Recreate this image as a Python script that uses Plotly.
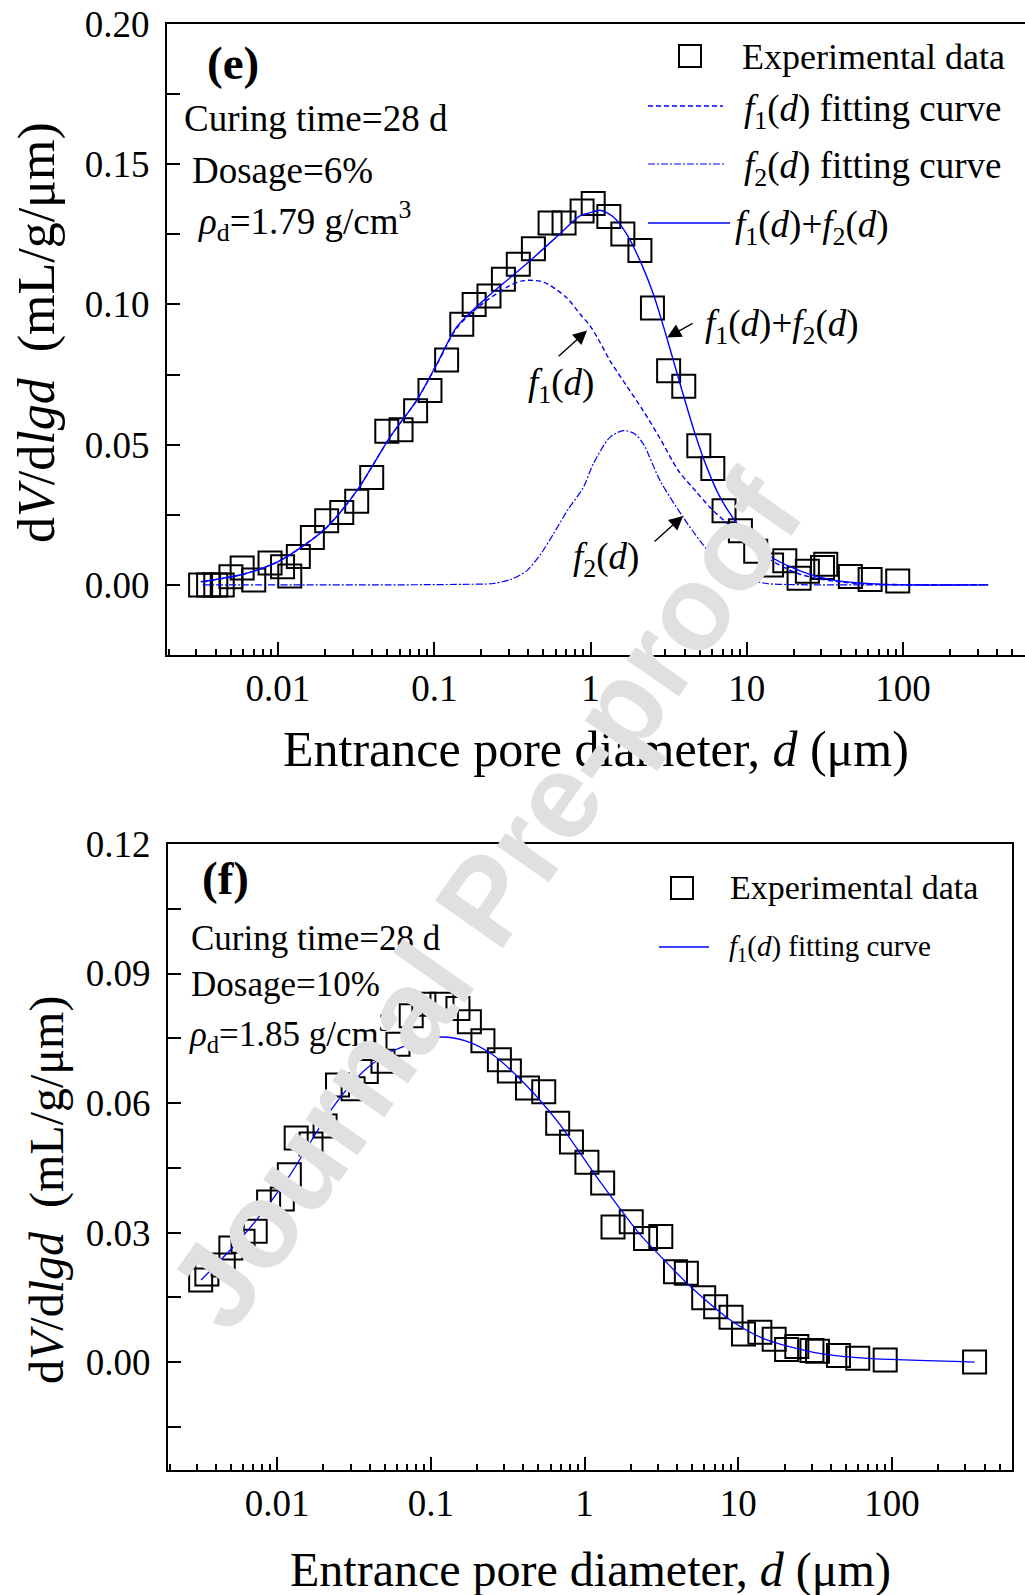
import math
import plotly.graph_objects as go

# ---------------- data: panel (e) ----------------
e_d = [0.0032, 0.0036, 0.0040, 0.0044, 0.0050, 0.0059, 0.0070, 0.0089, 0.0107, 0.0119,
       0.0135, 0.0166, 0.0205, 0.0256, 0.0319, 0.0398, 0.0497, 0.0613, 0.0760, 0.0939,
       0.120, 0.150, 0.180, 0.224, 0.277, 0.345, 0.431, 0.551, 0.677, 0.883,
       1.04, 1.31, 1.61, 2.07, 2.49, 3.16, 3.95, 4.93, 6.06, 7.15,
       9.10, 11.4, 14.4, 17.5, 21.6, 24.4, 30.5, 32.0, 46.0, 61.5, 92.4]
e_v = [0.0000, 0.0000, 0.0000, 0.0000, 0.0029, 0.0060, 0.0017, 0.0078, 0.0065, 0.0032,
       0.0101, 0.0169, 0.0229, 0.0258, 0.0298, 0.0383, 0.0548, 0.0553, 0.0621, 0.0693,
       0.0802, 0.0929, 0.1000, 0.1030, 0.1090, 0.1143, 0.1199, 0.1290, 0.1290, 0.1333,
       0.1360, 0.1314, 0.1251, 0.1192, 0.0987, 0.0764, 0.0708, 0.0496, 0.0415, 0.0264,
       0.0193, 0.0120, 0.0071, 0.0086, 0.0024, 0.0049, 0.0062, 0.0074, 0.0030, 0.0019, 0.0014]

f1e_d = [0.0033, 0.006, 0.0098, 0.0145, 0.0205, 0.032, 0.052, 0.077, 0.104, 0.139,
         0.206, 0.30, 0.375, 0.50, 0.70, 0.86, 0.99, 1.15, 1.33, 1.7,
         2.18, 2.8, 3.65, 4.7, 5.82, 7.3, 9.06, 11.0, 13.4, 17.0,
         21.9, 30.0, 40.0, 58.5, 100.0, 200.0, 350.0]
f1e_v = [0.0011, 0.0038, 0.0080, 0.0139, 0.0205, 0.0336, 0.0526, 0.0657, 0.0786, 0.0915,
         0.1005, 0.1065, 0.1085, 0.1080, 0.1025, 0.0965, 0.0925, 0.0865, 0.0800, 0.0710,
         0.0620, 0.0520, 0.0407, 0.0335, 0.0276, 0.0225, 0.0181, 0.0140, 0.0098, 0.0065,
         0.0038, 0.0020, 0.0010, 0.0003, 0.0001, 0.0000, 0.0000]

f2e_d = [0.0033, 0.01, 0.05, 0.1, 0.15, 0.239, 0.31, 0.39, 0.48, 0.578,
         0.72, 0.90, 1.04, 1.33, 1.62, 1.9, 2.18, 2.79, 3.93, 5.02,
         6.74, 9.5, 13.4, 20.0, 50.0, 350.0]
f2e_v = [0.0000, 0.0000, 0.0000, 0.0001, 0.0002, 0.0005, 0.0020, 0.0050, 0.0110, 0.0181,
         0.0270, 0.0348, 0.0431, 0.0526, 0.0550, 0.0540, 0.0502, 0.0371, 0.0240, 0.0157,
         0.0074, 0.0026, 0.0005, 0.0001, 0.0000, 0.0000]

sume_d = [0.0032, 0.006, 0.0098, 0.0145, 0.0205, 0.032, 0.052, 0.077, 0.104, 0.139,
          0.206, 0.39, 0.638, 0.85, 1.04, 1.15, 1.40, 1.70, 2.07, 2.52,
          3.07, 3.74, 4.67, 5.55, 6.75, 9.06, 13.4, 21.9, 35.8, 74.8, 350.0]
sume_v = [0.0011, 0.0038, 0.0080, 0.0139, 0.0205, 0.0336, 0.0526, 0.0657, 0.0788, 0.0919,
          0.1014, 0.1145, 0.1252, 0.1315, 0.1330, 0.1336, 0.1312, 0.1252, 0.1157, 0.1038,
          0.0883, 0.0717, 0.0538, 0.0419, 0.0312, 0.0205, 0.0110, 0.0050, 0.0017, 0.0002, 0.0000]

# ---------------- data: panel (f) ----------------
f_d = [0.00318, 0.00349, 0.00446, 0.0050, 0.0060, 0.0072, 0.0088, 0.0108, 0.0120, 0.0133,
       0.0166, 0.0205, 0.0247, 0.0312, 0.038, 0.0488, 0.0611, 0.0745, 0.090, 0.118,
       0.150, 0.178, 0.218, 0.279, 0.324, 0.425, 0.542, 0.668, 0.821, 1.035,
       1.31, 1.53, 2.01, 2.49, 3.13, 3.90, 4.59, 5.95, 7.12, 8.96,
       10.8, 13.8, 17.1, 20.6, 24.0, 30.1, 32.7, 44.8, 59.8, 90.2, 344.0]
f_v = [0.0190, 0.0204, 0.0225, 0.0264, 0.0280, 0.0303, 0.0371, 0.0378, 0.0434, 0.0519,
       0.0505, 0.0547, 0.0642, 0.0633, 0.0673, 0.0697, 0.0736, 0.0802, 0.0829, 0.0829,
       0.0819, 0.0788, 0.0744, 0.0700, 0.0674, 0.0635, 0.0626, 0.0553, 0.0510, 0.0463,
       0.0415, 0.0313, 0.0325, 0.0286, 0.0291, 0.0209, 0.0206, 0.0149, 0.0128, 0.0104,
       0.0065, 0.0069, 0.0053, 0.0029, 0.0036, 0.0027, 0.0025, 0.0015, 0.0009, 0.0005, 0.0000]

fitf_d = [0.0032, 0.006, 0.0114, 0.0229, 0.0377, 0.0561, 0.0925, 0.118, 0.168, 0.250,
          0.412, 0.678, 1.23, 2.24, 3.34, 4.98, 9.06, 14.9, 31.5, 66.5, 344.0]
fitf_v = [0.0190, 0.0292, 0.0419, 0.0589, 0.0678, 0.0720, 0.0748, 0.0753, 0.0744, 0.0713,
          0.0643, 0.0554, 0.0423, 0.0300, 0.0234, 0.0172, 0.0095, 0.0053, 0.0022, 0.0009, 0.0000]

x_major = [0.01, 0.1, 1, 10, 100]
x_major_text = ["0.01", "0.1", "1", "10", "100"]
x_minor = [k * 10.0 ** n for n in range(-3, 3) for k in range(2, 10)]
ye_ticks = [0.00, 0.05, 0.10, 0.15, 0.20]
yf_ticks = [0.00, 0.03, 0.06, 0.09, 0.12]

# ---------------- layout helpers ----------------
W, H = 1025, 1595
SERIF = "Liberation Serif, Times New Roman, serif"
BLUE = "#0000ff"


def px(x):
    return x / W


def py(y):
    return 1 - y / H


fig = go.Figure()

sq = dict(symbol="square-open", size=23, color="black", line=dict(width=2, color="black"))

fig.add_trace(go.Scatter(x=e_d, y=e_v, mode="markers", marker=sq, name="Experimental data",
                         xaxis="x", yaxis="y", showlegend=False))
fig.add_trace(go.Scatter(x=f1e_d, y=f1e_v, mode="lines", name="f1(d) fitting curve",
                         line=dict(color=BLUE, width=1.4, dash="5px,3px", shape="spline", smoothing=0.8),
                         xaxis="x", yaxis="y", showlegend=False))
fig.add_trace(go.Scatter(x=f2e_d, y=f2e_v, mode="lines", name="f2(d) fitting curve",
                         line=dict(color=BLUE, width=1.2, dash="7px,2px,2px,2px", shape="spline", smoothing=0.8),
                         xaxis="x", yaxis="y", showlegend=False))
fig.add_trace(go.Scatter(x=sume_d, y=sume_v, mode="lines", name="f1(d)+f2(d)",
                         line=dict(color=BLUE, width=1.4, shape="spline", smoothing=0.8),
                         xaxis="x", yaxis="y", showlegend=False))

fig.add_trace(go.Scatter(x=f_d, y=f_v, mode="markers", marker=sq, name="Experimental data",
                         xaxis="x2", yaxis="y2", showlegend=False))
fig.add_trace(go.Scatter(x=fitf_d, y=fitf_v, mode="lines", name="f1(d) fitting curve",
                         line=dict(color=BLUE, width=1.3, shape="spline", smoothing=0.8),
                         xaxis="x2", yaxis="y2", showlegend=False))

xcommon = dict(type="log", range=[-2.71, 2.78], tickvals=x_major, ticktext=x_major_text,
               ticks="inside", ticklen=13, tickwidth=2, tickcolor="black", automargin=False,
               showline=True, linewidth=2, linecolor="black", mirror=True,
               showgrid=False, zeroline=False, ticklabelstandoff=0,
               tickfont=dict(family=SERIF, size=37, color="black"),
               minor=dict(tickvals=x_minor, ticks="inside", ticklen=6, tickwidth=1.5,
                          tickcolor="black", showgrid=False))
ycommon = dict(ticks="inside", ticklen=13, tickwidth=2, tickcolor="black", automargin=False,
               showline=True, linewidth=2, linecolor="black",
               showgrid=False, zeroline=False, tickformat=".2f", ticklabelstandoff=8,
               tickfont=dict(family=SERIF, size=37, color="black"))

fig.update_layout(
    width=W, height=H,
    margin=dict(l=0, r=0, t=0, b=0, autoexpand=False),
    paper_bgcolor="white", plot_bgcolor="white",
    showlegend=False,
    xaxis=dict(domain=[px(167), 1.0], anchor="y", **xcommon),
    yaxis=dict(domain=[py(655), py(24)], anchor="x", range=[-0.025, 0.20], tickvals=ye_ticks,
               mirror=False,
               minor=dict(dtick=0.025, tick0=0, ticks="inside", ticklen=13, tickwidth=2, tickcolor="black"),
               **ycommon),
    xaxis2=dict(domain=[px(168), px(1012)], anchor="y2", **xcommon),
    yaxis2=dict(domain=[py(1470), py(844)], anchor="x2", range=[-0.025, 0.12], tickvals=yf_ticks,
                mirror=True,
                minor=dict(dtick=0.015, tick0=0, ticks="inside", ticklen=13, tickwidth=2, tickcolor="black"),
                **ycommon),
)

shapes = []
annotations = []


def text(x, y, s, size, anchor="left", bold=False, angle=0, color="black", family=SERIF):
    annotations.append(dict(
        x=px(x), y=py(y), xref="paper", yref="paper", text=("<b>%s</b>" % s) if bold else s,
        showarrow=False, xanchor=anchor, yanchor="middle", textangle=angle,
        font=dict(family=family, size=size, color=color)))


def hline(x0, x1, y, dash, width=1.4):
    shapes.append(dict(type="line", xref="paper", yref="paper", x0=px(x0), x1=px(x1), y0=py(y), y1=py(y),
                       line=dict(color=BLUE, width=width, dash=dash)))


def square(x, y, half=11):
    shapes.append(dict(type="rect", xref="paper", yref="paper", x0=px(x - half), x1=px(x + half),
                       y0=py(y + half), y1=py(y - half), line=dict(color="black", width=2)))


def arrow(xd, yd, ax, ay, xr, yr):
    # annotation x on a log axis is given as log10 of the value
    annotations.append(dict(x=math.log10(xd), y=yd, xref=xr, yref=yr, ax=ax, ay=ay,
                            text="", showarrow=True, arrowhead=2, arrowsize=2.0, arrowwidth=1.4,
                            arrowcolor="black"))


F1 = "<i>f</i><sub>1</sub>(<i>d</i>)"
F2 = "<i>f</i><sub>2</sub>(<i>d</i>)"

# ---- panel (e) texts ----
text(205, 63, "(e)", 47, bold=True)
text(182, 119, "Curing time=28 d", 37)
text(190, 170, "Dosage=6%", 37)
text(196, 221, "<i>ρ</i><sub>d</sub>=1.79 g/cm<sup>3</sup>", 37)

square(690, 56)
text(740, 57, "Experimental data", 36)
hline(648, 723, 106, "5px,3px")
text(742, 111, F1 + " fitting curve", 37)
hline(648, 724, 164, "7px,2px,2px,2px", 1.2)
text(742, 168, F2 + " fitting curve", 37)
hline(648, 730, 223, "solid")
text(733, 227, F1 + "+" + F2, 37)

text(703, 326, F1 + "+" + F2, 37)
text(526, 385, F1, 37)
text(571, 559, F2, 37)
arrow(3.09, 0.0882, 27, -15, "x", "y")
arrow(0.951, 0.0907, -30, 27, "x", "y")
arrow(3.91, 0.0246, -30, 27, "x", "y")

text(596, 749, "Entrance pore diameter, <i>d</i> (μm)", 50, anchor="center")
text(37, 333, "d<i>V</i>/d<i>lgd</i>\u00a0 (mL/g/μm)", 52, anchor="center", angle=-90)

# ---- panel (f) texts ----
text(200, 878, "(f)", 47, bold=True)
text(189, 938, "Curing time=28 d", 35)
text(189, 984, "Dosage=10%", 35)
text(187, 1033, "<i>ρ</i><sub>d</sub>=1.85 g/cm<sup>3</sup>", 35)

square(682, 888)
text(728, 888, "Experimental data", 34)
hline(659, 709, 947, "solid", 1.3)
text(727, 948, F1 + " fitting curve", 29)

text(590, 1570, "Entrance pore diameter, <i>d</i> (μm)", 48, anchor="center")
text(47, 1190, "d<i>V</i>/d<i>lgd</i>\u00a0 (mL/g/μm)", 48, anchor="center", angle=-90)

# watermark on top
text(485, 900, "Journal Pre-proof", 120, anchor="center", bold=True, angle=-55,
     color="#e0e0e0", family="Liberation Sans, Arial, sans-serif")

fig.update_layout(shapes=shapes, annotations=annotations)
fig.write_html("out.html")
